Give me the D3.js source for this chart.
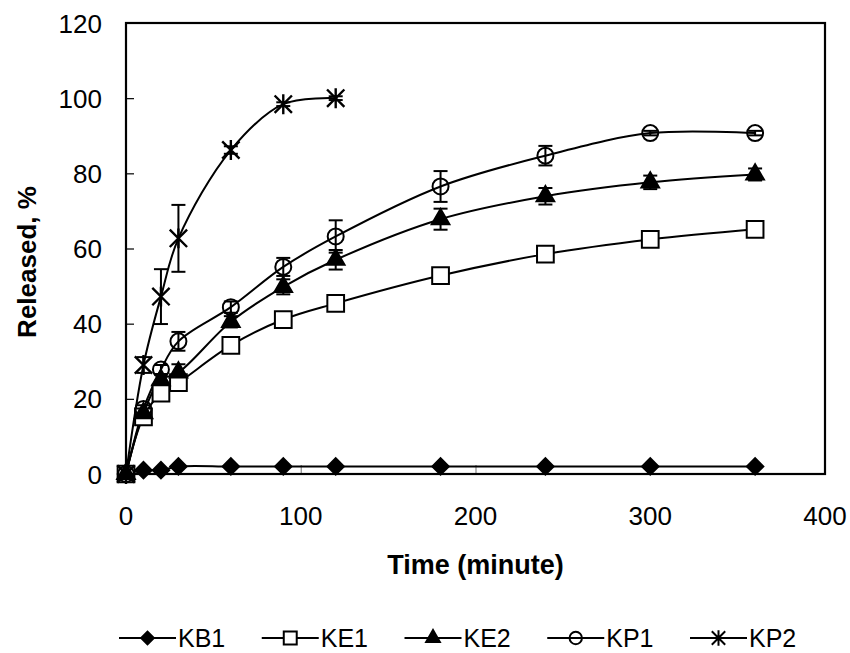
<!DOCTYPE html>
<html>
<head>
<meta charset="utf-8">
<script src="https://cdn.jsdelivr.net/npm/d3@7"></script>
<style>
  body { margin: 0; background: #fff; }
  text { font-family: Arial, "Liberation Sans", sans-serif; fill: #000; }
</style>
</head>
<body>
<div id="wrapper"></div>
<script>
/// Data ///
const times = [0, 10, 20, 30, 60, 90, 120, 180, 240, 300, 360];
const timesKP2 = [0, 10, 20, 30, 60, 90, 120];

const kb1 = [0, 1, 1, 2, 2, 2, 2, 2, 2, 2, 2];
const ke1 = [0, 15.2, 21.5, 24.3, 34.2, 41.1, 45.4, 52.8, 58.5, 62.4, 65.1];
const ke2 = [0, 16.2, 25, 27, 40.5, 49.8, 57, 67.8, 73.9, 77.6, 79.7];
const kp1 = [0, 17.3, 27.8, 35.3, 44.4, 55.1, 63.2, 76.5, 84.7, 90.7, 90.7];
const kp2 = [0, 29, 47.2, 62.7, 86.2, 98.4, 100];

// standard deviations (error bars)
const kb1Err = [0, 0, 0, 0, 0, 0, 0, 0, 0, 0, 0];
const ke1Err = [0, 1, 0.8, 1, 0.8, 0.7, 0.8, 0.8, 0.8, 0.5, 0.6];
const ke2Err = [0, 1, 1.5, 2.2, 1.5, 2, 2.6, 2.8, 2.2, 1.8, 1.6];
const kp1Err = [0, 1, 1.2, 2.5, 1.5, 2.4, 4.3, 4.1, 2.6, 0.6, 0.6];
const kp2Err = [0, 2.1, 7.3, 8.9, 1, 0.5, 0.5];

const seriesNames = ["KB1", "KE1", "KE2", "KP1", "KP2"];
const xTicks = [0, 100, 200, 300, 400];
const yTicks = [0, 20, 40, 60, 80, 100, 120];

/// Dimensions ///
const width = 850;
const height = 653;
const margin = { top: 23, right: 25, bottom: 179, left: 126 };

const svg = d3.select("#wrapper").append("svg")
  .attr("width", width)
  .attr("height", height);

/// Scales ///
const x = d3.scaleLinear()
  .domain([0, 400])
  .range([margin.left, width - margin.right]);
const y = d3.scaleLinear()
  .domain([0, 120])
  .range([height - margin.bottom, margin.top]);

// asterisk: an X with a vertical bar through it
const asterisk = {
  draw(context, size) {
    const r = Math.sqrt(size) / 2;
    context.moveTo(-r, -r); context.lineTo(r, r);
    context.moveTo(-r, r); context.lineTo(r, -r);
    context.moveTo(0, -r * 1.15); context.lineTo(0, r * 1.15);
  }
};

const styles = {
  KB1: { type: d3.symbolSquare, size: 135, rotate: 45, fill: "#000" },
  KE1: { type: d3.symbolSquare, size: 280, rotate: 0, fill: "#fff" },
  KE2: { type: d3.symbolTriangle, size: 135, rotate: 0, fill: "#000" },
  KP1: { type: d3.symbolCircle, size: 201, rotate: 0, fill: "none" },
  KP2: { type: asterisk, size: 300, rotate: 0, fill: "none" }
};

const series = [
  { name: "KB1", t: times, v: kb1, e: kb1Err },
  { name: "KE1", t: times, v: ke1, e: ke1Err },
  { name: "KE2", t: times, v: ke2, e: ke2Err },
  { name: "KP1", t: times, v: kp1, e: kp1Err },
  { name: "KP2", t: timesKP2, v: kp2, e: kp2Err }
].map(s => ({ ...s, points: s.t.map((t, i) => ({ t, v: s.v[i], e: s.e[i] })) }));

/// Axes (inward ticks) ///
svg.append("g")
  .attr("transform", `translate(0, ${y(0)})`)
  .call(d3.axisTop(x).tickValues(xTicks.slice(1, -1)).tickSize(9).tickFormat(""))
  .call(g => g.select(".domain").remove())
  .call(g => g.selectAll("line").attr("stroke", "#888").attr("stroke-width", 1.2));

svg.append("g")
  .attr("transform", `translate(${x(0)}, 0)`)
  .call(d3.axisRight(y).tickValues(yTicks.slice(1, -1)).tickSize(8).tickFormat(""))
  .call(g => g.select(".domain").remove())
  .call(g => g.selectAll("line").attr("stroke", "#000").attr("stroke-width", 1.2));

svg.selectAll(".xlab")
  .data(xTicks)
  .join("text")
    .attr("x", d => x(d))
    .attr("y", y(0) + 51)
    .attr("text-anchor", "middle")
    .attr("font-size", 26)
    .text(d => d);

svg.selectAll(".ylab")
  .data(yTicks)
  .join("text")
    .attr("x", x(0) - 24)
    .attr("y", d => y(d) + 9.5)
    .attr("text-anchor", "end")
    .attr("font-size", 26)
    .text(d => d);

/// Lines ///
const line = d3.line()
  .x(d => x(d.t))
  .y(d => y(d.v))
  .curve(d3.curveCatmullRom.alpha(0.5));

svg.selectAll(".series")
  .data(series)
  .join("path")
    .attr("d", d => line(d.points))
    .attr("fill", "none")
    .attr("stroke", "#000")
    .attr("stroke-width", 2);

/// Error bars ///
const capW = 7;
series.forEach(s => {
  const g = svg.append("g").attr("stroke", "#000").attr("stroke-width", 2);
  s.points.filter(p => p.e > 0).forEach(p => {
    const cx = x(p.t), top = y(p.v + p.e), bot = y(p.v - p.e);
    g.append("line").attr("x1", cx).attr("x2", cx).attr("y1", top).attr("y2", bot);
    g.append("line").attr("x1", cx - capW).attr("x2", cx + capW).attr("y1", top).attr("y2", top);
    g.append("line").attr("x1", cx - capW).attr("x2", cx + capW).attr("y1", bot).attr("y2", bot);
  });
});

/// Markers ///
series.forEach(s => {
  const st = styles[s.name];
  svg.append("g").selectAll("path")
    .data(s.points)
    .join("path")
      .attr("transform", d => `translate(${x(d.t)}, ${y(d.v)}) rotate(${st.rotate})`)
      .attr("d", d3.symbol(st.type, st.size))
      .attr("fill", st.fill)
      .attr("stroke", "#000")
      .attr("stroke-width", s.name === "KP2" ? 2.4 : 2);
});

/// Plot frame ///
svg.append("rect")
  .attr("x", x(0))
  .attr("y", y(120))
  .attr("width", x(400) - x(0))
  .attr("height", y(0) - y(120))
  .attr("fill", "none")
  .attr("stroke", "#000")
  .attr("stroke-width", 2.2);

/// Axis titles ///
svg.append("text")
  .attr("x", (x(0) + x(400)) / 2)
  .attr("y", 574)
  .attr("text-anchor", "middle")
  .attr("font-size", 27)
  .attr("font-weight", "bold")
  .text("Time (minute)");

svg.append("text")
  .attr("transform", `translate(36, 262) rotate(-90)`)
  .attr("text-anchor", "middle")
  .attr("font-size", 26)
  .attr("font-weight", "bold")
  .text("Released, %");

/// Legend ///
const legendX = d3.scaleLinear().domain([0, 4]).range([119, 690]);
const legendY = 638;
const legend = svg.selectAll(".legend")
  .data(seriesNames)
  .join("g")
    .attr("transform", (d, i) => `translate(${legendX(i)}, ${legendY})`);

legend.append("line")
  .attr("x1", 0).attr("x2", 57)
  .attr("stroke", "#000").attr("stroke-width", 2);

legend.append("path")
  .attr("transform", d => `translate(28.5, 0) rotate(${styles[d].rotate})`)
  .attr("d", d => d3.symbol(styles[d].type, styles[d].size * 0.6)())
  .attr("fill", d => styles[d].fill)
  .attr("stroke", "#000")
  .attr("stroke-width", 2);

legend.append("text")
  .attr("x", 59)
  .attr("y", 9)
  .attr("font-size", 25)
  .text(d => d);
</script>
</body>
</html>
